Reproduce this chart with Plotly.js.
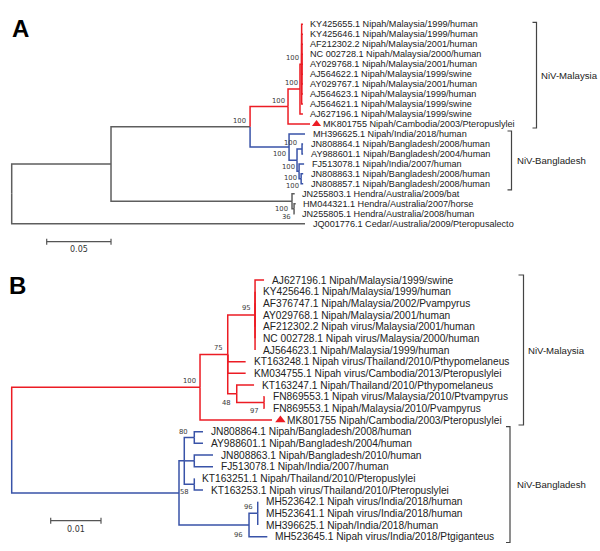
<!DOCTYPE html>
<html><head><meta charset="utf-8">
<script src="https://cdn.plot.ly/plotly-3.0.1.min.js"></script>
<style>html,body{margin:0;padding:0;background:#fff}#chart{width:600px;height:551px}</style>
</head><body><div id="chart"></div>
<script>
// ================= DATA =================
// Panel A tree (nodes listed parent-before-child; leaves in display order)
const treeA_nodes = [
  'rootA','a1','a2','aM','aM1','aM2',
  'KY425655.1 Nipah/Malaysia/1999/human',
  'KY425646.1 Nipah/Malaysia/1999/human',
  'AF212302.2 Nipah/Malaysia/2001/human',
  'NC 002728.1 Nipah/Malaysia/2000/human',
  'AY029768.1 Nipah/Malaysia/2001/human',
  'AJ564622.1 Nipah/Malaysia/1999/swine',
  'AY029767.1 Nipah/Malaysia/2001/human',
  'AJ564623.1 Nipah/Malaysia/1999/human',
  'AJ564621.1 Nipah/Malaysia/1999/swine',
  'AJ627196.1 Nipah/Malaysia/1999/swine',
  'MK801755 Nipah/Cambodia/2003/Pteropuslylei',
  'aB',
  'MH396625.1 Nipah/India/2018/human',
  'aB1','aB2',
  'JN808864.1 Nipah/Bangladesh/2008/human',
  'AY988601.1 Nipah/Bangladesh/2004/human',
  'aB3',
  'FJ513078.1 Nipah/India/2007/human',
  'aB4',
  'JN808863.1 Nipah/Bangladesh/2008/human',
  'JN808857.1 Nipah/Bangladesh/2008/human',
  'aH',
  'JN255803.1 Hendra/Australia/2009/bat',
  'aH2',
  'HM044321.1 Hendra/Australia/2007/horse',
  'JN255805.1 Hendra/Australia/2008/human',
  'JQ001776.1 Cedar/Australia/2009/Pteropusalecto'
];
const treeA_parent = [-1,0,1,2,3,4,5,5,5,5,5,5,5,5,5,4,3,2,17,17,19,20,20,19,23,23,25,25,1,28,28,30,30,0];
const treeA_length = [0,0.0772,0.1081,0.0295,0.0093,0.0013,
  0.0010,0.0010,0.0010,0.0010,0.0010,0.0010,0.0010,0.0010,0.0010,
  0.0023,0.0171,0.0303,0.0124,0.0062,0.0039,0.0008,0.0008,0.0016,0.0039,0.0016,0.0016,0.0016,
  0.1407,0.0021,0.0016,0.0013,0.0005,0.2280];
const treeA_support = [null,null,100,100,100,100,null,null,null,null,null,null,null,null,null,null,null,
  100,null,100,100,null,null,100,null,100,null,null,100,null,36,null,null,null];
const treeA_clades = {aM:'NiV-Malaysia', aB:'NiV-Bangladesh'};
const treeA_marked = ['MK801755 Nipah/Cambodia/2003/Pteropuslylei'];
const scaleA_value = 0.05;

// Panel B tree
const treeB_nodes = [
  'rootB','bR','bR75','bR95',
  'AJ627196.1 Nipah/Malaysia/1999/swine',
  'KY425646.1 Nipah/Malaysia/1999/human',
  'AF376747.1 Nipah/Malaysia/2002/Pvampyrus',
  'AY029768.1 Nipah/Malaysia/2001/human',
  'AF212302.2 Nipah virus/Malaysia/2001/human',
  'NC 002728.1 Nipah virus/Malaysia/2000/human',
  'AJ564623.1 Nipah/Malaysia/1999/human',
  'KT163248.1 Nipah virus/Thailand/2010/Pthypomelaneus',
  'KM034755.1 Nipah virus/Cambodia/2013/Pteropuslylei',
  'bR48',
  'KT163247.1 Nipah/Thailand/2010/Pthypomelaneus',
  'bR97',
  'FN869553.1 Nipah virus/Malaysia/2010/Ptvampyrus',
  'FN869553.1 Nipah/Malaysia/2010/Pvampyrus',
  'MK801755 Nipah/Cambodia/2003/Pteropuslylei',
  'bG','bG1','bG80',
  'JN808864.1 Nipah/Bangladesh/2008/human',
  'AY988601.1 Nipah/Bangladesh/2004/human',
  'bG2',
  'JN808863.1 Nipah/Bangladesh/2010/human',
  'FJ513078.1 Nipah/India/2007/human',
  'bG3',
  'KT163251.1 Nipah/Thailand/2010/Pteropuslylei',
  'KT163253.1 Nipah virus/Thailand/2010/Pteropuslylei',
  'bG96a','bG96b',
  'MH523642.1 Nipah virus/India/2018/human',
  'MH523641.1 Nipah virus/India/2018/human',
  'MH396625.1 Nipah/India/2018/human',
  'MH523645.1 Nipah virus/India/2018/Ptgiganteus'
];
const treeB_parent = [-1,0,1,2,3,3,3,3,3,3,3,2,2,2,13,13,15,15,1,0,19,20,21,21,20,24,24,20,27,27,19,30,31,31,31,30];
const treeB_length = [0,0.03744,0.00551,0.00543,0.00179,0,0,0,0,0,0,
  0.00356,0.00356,0.00179,0.00344,0.00543,0.0001,0.0001,0.01431,
  0.03326,0.00105,0.00199,0.00173,0.00173,0.00199,0.00372,0.00372,0.00199,0,0.00173,
  0.01392,0.00173,0,0,0,0.00364];
const treeB_support = [null,100,75,95,null,null,null,null,null,null,null,null,null,48,null,97,null,null,null,
  58,null,80,null,null,null,null,null,null,null,null,96,96,null,null,null,null];
const treeB_clades = {bR:'NiV-Malaysia', bG:'NiV-Bangladesh'};
const treeB_marked = ['MK801755 Nipah/Cambodia/2003/Pteropuslylei'];
const scaleB_value = 0.01;

// ================= STYLE =================
const W = 600, H = 551;
const COLORS = {'NiV-Malaysia':'#ec1c24', 'NiV-Bangladesh':'#3953a8', other:'#5e5e5e'};
const TEXT = '#222222';
const panelA = {
  xa:'x', ya:'y', topPx:0, bottomPx:260, rootPx:11.7, pxPerUnit:1286.4, row0Px:24.3, rowStep:9.97,
  leafFont:9.1, leafGap:6.5, markShift:6.5, markSize:8, markTextGap:12,
  scale:{x0Px:46.7, yPx:241.7, labelDy:7.8},
  brackets:{'NiV-Malaysia':{xPx:536.5, tick:4, padTop:0.2, padBot:0.4, textGap:3},
            'NiV-Bangladesh':{xPx:511.5, tick:4, padTop:0.3, padBot:0.6, textGap:4.5}},
  letter:{text:'A', xPx:20, yPx:29},
  offsets:{a2:[-10.5,-6], aM:[-9.5,-6], aM1:[-8.5,-6.4], aM2:[-8.7,-6], aB:[-10,7.2], aB1:[-4.2,25.6],
           aB2:[-12,-6.1], aB3:[-10.7,-4.1], aB4:[-11,-0.6], aH:[-11,7.7], aH2:[-7.5,7.8]}
};
const panelB = {
  xa:'x2', ya:'y2', topPx:260, bottomPx:551, rootPx:11.7, pxPerUnit:5030, row0Px:280, rowStep:11.667,
  leafFont:10.2, leafGap:7, markShift:8.4, markSize:9, markTextGap:14,
  scale:{x0Px:50.7, yPx:520.7, labelDy:8.6},
  brackets:{'NiV-Malaysia':{xPx:523.5, tick:5, padTop:0.43, padBot:0.43, textGap:3.8},
            'NiV-Bangladesh':{xPx:510, tick:4, padTop:0.43, padBot:0.5, textGap:6}},
  letter:{text:'B', xPx:17, yPx:285},
  offsets:{bR:[-10.5,-6.2], bR75:[-9.2,-6.4], bR95:[-9,-6.7], bR48:[-10.2,9.5], bR97:[-9.5,8.5],
           bG:[5,-0.5], bG80:[-10.3,-5.8], bG96a:[-10.5,10], bG96b:[-9.7,-6]}
};

// ================= BUILD =================
function layoutTree(nodes, parent, length){
  const n = nodes.length, children = nodes.map(()=>[]);
  for (let i=1;i<n;i++) children[parent[i]].push(i);
  const x = new Array(n), y = new Array(n);
  x[0] = 0;
  for (let i=1;i<n;i++) x[i] = x[parent[i]] + length[i];
  let row = 0;
  for (let i=0;i<n;i++) if (!children[i].length) y[i] = row++;
  for (let i=n-1;i>=0;i--) if (children[i].length){
    const ys = children[i].map(c=>y[c]);
    y[i] = (Math.min(...ys)+Math.max(...ys))/2;
  }
  return {x, y, children};
}

const traces = [], annotations = [];
const layout = {
  width:W, height:H, margin:{l:0,r:0,t:0,b:0}, paper_bgcolor:'#fff', plot_bgcolor:'#fff',
  showlegend:false, font:{family:'Liberation Sans, Arial, sans-serif', color:TEXT}
};

function buildPanel(cfg, tree){
  const L = layoutTree(tree.nodes, tree.parent, tree.length);
  const n = tree.nodes.length;
  const dX = px => (px - cfg.rootPx)/cfg.pxPerUnit;
  const dY = py => (py - cfg.row0Px)/cfg.rowStep;
  const axX = cfg.xa === 'x' ? 'xaxis' : 'xaxis' + cfg.xa.slice(1);
  const axY = cfg.ya === 'y' ? 'yaxis' : 'yaxis' + cfg.ya.slice(1);
  layout[axX] = {domain:[0,1], range:[dX(0), dX(W)], visible:false, fixedrange:true, anchor:cfg.ya};
  layout[axY] = {domain:[1-cfg.bottomPx/H, 1-cfg.topPx/H], range:[dY(cfg.bottomPx), dY(cfg.topPx)],
                 visible:false, fixedrange:true, anchor:cfg.xa};
  const clade = new Array(n).fill('other');
  for (let i=0;i<n;i++){
    if (tree.clades[tree.nodes[i]]) clade[i] = tree.clades[tree.nodes[i]];
    else if (i>0) clade[i] = clade[tree.parent[i]];
  }
  const segs = {};
  for (let i=1;i<n;i++){
    const p = tree.parent[i], c = clade[i];
    if (!segs[c]) segs[c] = {x:[], y:[]};
    segs[c].x.push(L.x[p], L.x[p], L.x[i], null);
    segs[c].y.push(L.y[p], L.y[i], L.y[i], null);
  }
  ['other','NiV-Bangladesh','NiV-Malaysia'].forEach(c=>{
    if (!segs[c]) return;
    traces.push({type:'scatter', mode:'lines', x:segs[c].x, y:segs[c].y, xaxis:cfg.xa, yaxis:cfg.ya,
      line:{color:COLORS[c], width:1.5}, hoverinfo:'skip', connectgaps:false});
  });
  const markX = [], markY = [];
  for (let i=0;i<n;i++){
    if (L.children[i].length) continue;
    const marked = tree.marked.includes(tree.nodes[i]);
    if (marked){ markX.push(L.x[i] + cfg.markShift/cfg.pxPerUnit); markY.push(L.y[i]); }
    annotations.push({xref:cfg.xa, yref:cfg.ya, x:L.x[i], y:L.y[i], text:tree.nodes[i],
      xanchor:'left', yanchor:'middle', xshift: marked ? cfg.markTextGap : cfg.leafGap,
      showarrow:false, borderpad:0, font:{size:cfg.leafFont, color:TEXT}});
  }
  traces.push({type:'scatter', mode:'markers', x:markX, y:markY, xaxis:cfg.xa, yaxis:cfg.ya,
    marker:{symbol:'triangle-up', size:cfg.markSize, color:COLORS['NiV-Malaysia']}, hoverinfo:'skip', cliponaxis:false});
  for (let i=0;i<n;i++){
    if (tree.support[i] == null) continue;
    const off = cfg.offsets[tree.nodes[i]] || [-9,-6];
    annotations.push({xref:cfg.xa, yref:cfg.ya, x:L.x[i], y:L.y[i], text:String(tree.support[i]),
      xanchor:'center', yanchor:'middle', xshift:off[0], yshift:-off[1], showarrow:false, borderpad:0,
      font:{family:'DejaVu Sans, sans-serif', size:6.8, color:'#3a3a3a'}});
  }
  Object.keys(tree.clades).forEach(id=>{
    const name = tree.clades[id], b = cfg.brackets[name];
    const root = tree.nodes.indexOf(id);
    const rows = [];
    (function walk(k){ if (!L.children[k].length) rows.push(L.y[k]); L.children[k].forEach(walk); })(root);
    const top = Math.min(...rows) - b.padTop, bot = Math.max(...rows) + b.padBot;
    const bx = dX(b.xPx), tx = dX(b.xPx - b.tick);
    traces.push({type:'scatter', mode:'lines', x:[tx,bx,bx,tx], y:[top,top,bot,bot], xaxis:cfg.xa, yaxis:cfg.ya,
      line:{color:'#444', width:1.2}, hoverinfo:'skip'});
    annotations.push({xref:cfg.xa, yref:cfg.ya, x:bx, y:(top+bot)/2, text:name, xanchor:'left', yanchor:'middle',
      xshift:b.textGap, showarrow:false, borderpad:0, font:{size:9.6, color:TEXT}});
  });
  const s = cfg.scale, x0 = dX(s.x0Px), x1 = x0 + tree.scale, yr = dY(s.yPx), tk = 3/cfg.rowStep;
  traces.push({type:'scatter', mode:'lines', x:[x0,x0,null,x0,x1,null,x1,x1], y:[yr-tk,yr+tk,null,yr,yr,null,yr-tk,yr+tk],
    xaxis:cfg.xa, yaxis:cfg.ya, line:{color:'#555', width:1.2}, hoverinfo:'skip'});
  annotations.push({xref:cfg.xa, yref:cfg.ya, x:(x0+x1)/2, y:yr, text:String(tree.scale), xanchor:'center', yanchor:'middle',
    yshift:-s.labelDy, showarrow:false, borderpad:0, font:{family:'DejaVu Sans, sans-serif', size:8, color:'#333'}});
  annotations.push({xref:'paper', yref:'paper', x:cfg.letter.xPx/W, y:1-cfg.letter.yPx/H, text:cfg.letter.text,
    xanchor:'center', yanchor:'middle', showarrow:false, font:{size:24, weight:'bold', color:'#000'}});
}

buildPanel(panelA, {nodes:treeA_nodes, parent:treeA_parent, length:treeA_length, support:treeA_support,
  clades:treeA_clades, marked:treeA_marked, scale:scaleA_value});
buildPanel(panelB, {nodes:treeB_nodes, parent:treeB_parent, length:treeB_length, support:treeB_support,
  clades:treeB_clades, marked:treeB_marked, scale:scaleB_value});

layout.annotations = annotations;
Plotly.newPlot('chart', traces, layout, {displayModeBar:false, staticPlot:true});
</script>
</body></html>
